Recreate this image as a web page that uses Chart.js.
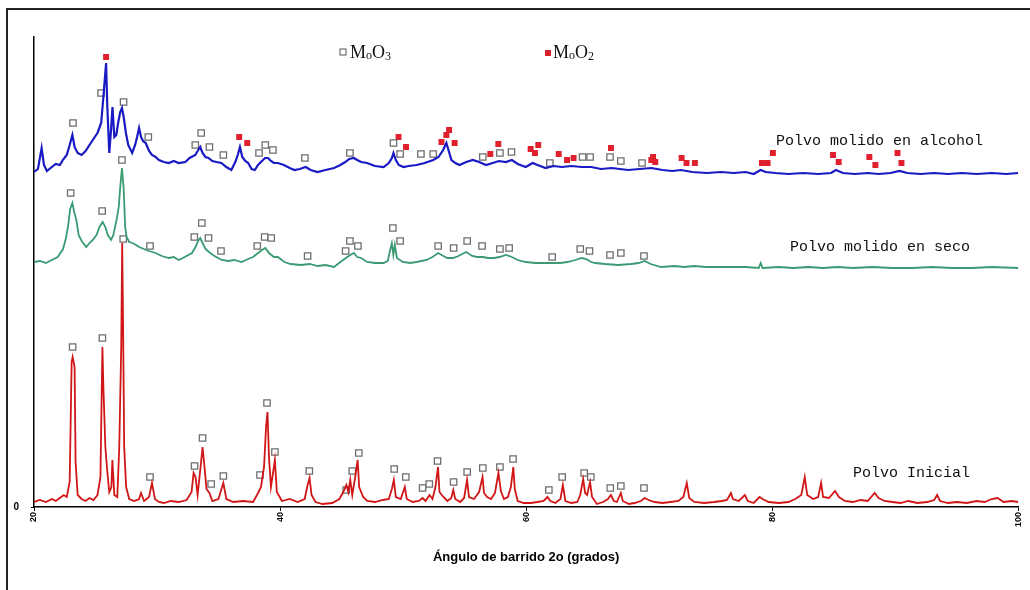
<!DOCTYPE html>
<html>
<head>
<meta charset="utf-8">
<script src="https://cdn.jsdelivr.net/npm/chart.js@4.4.1/dist/chart.umd.min.js"></script>
<style>
    html, body { margin: 0; padding: 0; background: #fff; overflow: hidden; }
    .wrap { position: relative; width: 1030px; height: 590px; }
    .frame { position: absolute; left: 6px; top: 8px; width: 1040px; height: 600px; border: 2px solid #222; box-sizing: border-box; pointer-events: none; }
    canvas { position: absolute; left: 0; top: 0; }
</style>
</head>
<body>
<div class="wrap">
    <canvas id="xrd" width="1030" height="590"></canvas>
    <div class="frame"></div>
</div>
<script>
// Angulos 2theta y alturas (unidades arbitrarias, 0 = eje)
const redX = [20.0,20.48,20.97,21.45,21.77,22.1,22.42,22.66,22.9,23.06,23.14,23.3,23.38,23.55,23.87,24.19,24.51,24.83,25.16,25.4,25.56,25.64,25.8,25.96,26.12,26.29,26.37,26.53,26.77,26.93,27.09,27.17,27.25,27.33,27.49,27.74,28.14,28.54,28.7,28.95,29.35,29.59,29.83,30.15,30.56,31.12,31.76,32.41,32.81,32.97,33.13,33.3,33.54,33.7,33.86,34.02,34.26,34.5,34.99,35.39,35.64,36.2,37.0,37.81,38.21,38.45,38.7,38.86,38.98,39.1,39.26,39.5,39.58,39.74,40.15,40.79,41.43,42.0,42.24,42.4,42.56,42.88,43.45,44.25,44.82,45.14,45.39,45.55,45.71,45.87,46.11,46.31,46.43,46.76,47.08,47.72,48.36,48.84,49.09,49.25,49.41,49.81,50.14,50.3,50.78,51.27,51.59,51.83,52.15,52.39,52.63,52.84,52.96,53.28,53.6,53.92,54.08,54.24,54.64,54.96,55.2,55.36,55.77,56.18,56.46,56.58,56.83,57.15,57.47,57.75,57.95,58.2,58.52,58.76,58.96,59.08,59.32,59.81,60.37,60.93,61.42,61.74,61.98,62.38,62.79,62.99,63.19,63.68,64.16,64.4,64.64,64.8,64.96,65.2,65.36,65.76,66.25,66.65,66.89,67.13,67.38,67.7,67.86,68.35,68.83,69.32,69.64,69.96,70.44,71.09,71.73,72.38,72.78,73.06,73.26,73.67,74.47,75.28,75.92,76.33,76.65,76.81,77.29,77.78,78.02,78.5,78.98,79.22,79.71,80.52,81.32,81.88,82.37,82.65,82.85,83.33,83.74,83.98,84.14,84.62,85.11,85.43,85.91,86.56,87.2,87.77,88.33,88.65,89.14,89.78,90.43,91.07,91.8,92.6,93.17,93.41,93.65,94.29,95.02,95.83,96.63,97.28,97.84,98.33,98.81,99.45,100];
const redY = [5,7,5,8,6,9,12,10,25,145,150,140,45,12,8,6,9,7,12,30,160,120,60,35,15,20,47,12,10,60,160,264,170,60,20,8,6,8,14,6,10,24,8,5,4,6,5,7,15,34,30,12,40,60,40,18,14,6,8,24,8,5,6,5,14,20,40,80,95,50,20,40,47,15,6,8,5,8,22,29,12,5,3,4,8,15,22,15,27,12,30,47,20,10,6,5,7,8,18,27,10,8,20,8,5,6,9,6,12,8,20,40,15,10,6,9,17,8,5,9,27,10,8,15,30,14,10,8,14,34,16,8,10,20,40,18,6,4,4,5,6,10,6,4,8,22,6,4,5,12,28,14,12,25,10,3,5,8,12,6,5,14,6,3,4,6,9,7,5,4,5,6,10,24,9,5,4,5,6,7,14,8,6,12,6,4,10,8,5,4,5,8,12,30,12,8,10,24,10,9,16,10,6,5,7,6,14,9,6,5,4,6,4,5,7,12,6,4,5,4,6,5,8,9,5,6,5];

const greenX = [20.0,20.48,20.97,21.45,21.93,22.36,22.58,22.76,22.94,23.12,23.27,23.44,23.63,23.87,24.25,24.51,24.78,25.08,25.32,25.58,25.8,26.0,26.26,26.45,26.71,26.89,27.01,27.15,27.29,27.41,27.53,27.74,28.0,28.3,28.54,28.94,29.35,29.89,30.39,30.96,31.36,31.76,32.25,32.84,33.13,33.34,33.51,33.7,33.94,34.32,34.67,35.26,35.79,36.28,36.87,37.41,37.81,38.21,38.53,38.8,39.1,39.5,39.82,40.36,40.87,41.7,42.4,43.05,43.69,44.39,44.9,45.47,45.71,46.0,46.27,46.59,47.08,47.72,48.42,48.76,48.97,49.09,49.21,49.33,49.5,49.98,50.57,51.1,51.91,52.39,52.85,53.28,53.6,54.06,54.5,55.13,55.61,56.02,56.48,56.91,57.4,57.83,58.36,58.84,59.32,59.97,60.77,61.42,62.12,62.79,63.35,64.0,64.53,64.88,65.29,65.61,66.41,67.49,68.51,69.15,69.64,70.12,70.98,72.05,72.86,73.67,74.63,75.68,76.89,77.86,78.91,79.07,79.22,80.52,81.73,82.93,84.14,85.35,86.56,88.17,89.78,91.39,93.0,94.61,96.23,97.84,100];
const greenY = [245,246,244,247,250,258,268,280,298,304,295,287,272,266,260,264,267,272,280,285,280,272,267,272,287,300,320,339,318,280,270,265,264,262,260,258,256,254,251,249,250,247,250,254,260,266,269,264,258,254,251,247,246,247,245,248,250,254,257,259,254,250,250,245,243,242,243,241,242,240,245,250,252,254,250,249,245,244,244,246,258,264,252,262,249,245,244,245,247,250,254,251,249,249,251,255,251,250,250,249,249,250,252,250,247,245,244,244,244,244,245,247,249,248,245,244,243,242,243,244,246,243,240,241,240,241,240,240,240,240,239,244,239,240,239,240,239,240,239,240,239,239,240,239,239,240,239];

const blueX = [20.0,20.32,20.62,20.81,21.05,21.45,21.77,22.1,22.34,22.66,22.9,23.12,23.3,23.55,23.87,24.19,24.51,24.83,25.16,25.46,25.64,25.86,25.96,26.12,26.25,26.38,26.53,26.69,26.85,27.01,27.15,27.29,27.47,27.66,27.98,28.22,28.38,28.54,28.7,28.86,29.08,29.35,29.59,29.89,30.15,30.56,30.96,31.36,31.76,32.3,32.65,33.11,33.3,33.51,33.7,33.94,34.18,34.5,34.83,35.23,35.63,36.04,36.36,36.56,36.74,36.93,37.17,37.41,37.69,37.95,38.21,38.53,38.78,39.02,39.26,39.5,39.82,40.31,40.79,41.17,41.6,42.08,42.49,43.05,43.69,44.39,44.9,45.3,45.62,46.0,46.27,46.59,47.08,47.72,48.42,48.84,49.09,49.22,49.41,49.65,50.03,50.46,51.1,51.75,52.45,52.88,53.26,53.44,53.52,53.69,53.93,54.25,54.59,55.13,55.67,56.18,56.75,57.28,57.79,58.36,58.84,59.32,59.97,60.53,60.94,61.58,62.23,62.92,63.67,64.53,65.29,66.09,66.95,67.62,68.29,69.23,70.18,71.09,71.89,72.59,73.5,74.71,75.84,76.89,77.86,78.5,79.06,79.47,80.27,81.32,82.53,83.74,84.79,85.19,85.75,86.72,87.77,88.65,89.62,90.35,90.99,92.04,93.17,94.29,95.42,96.63,97.84,99.05,100];
const blueY = [335,338,359,342,336,340,343,342,347,352,362,372,360,354,352,356,362,368,374,384,410,444,400,354,375,400,370,372,385,395,399,390,374,362,354,362,370,379,370,366,364,356,352,350,347,345,344,346,344,345,349,352,356,360,354,350,349,346,345,344,340,337,345,352,360,350,346,344,338,337,342,346,349,349,346,344,344,342,339,337,338,340,337,335,337,339,342,345,348,349,347,345,344,341,340,344,349,354,347,342,340,341,342,344,347,350,357,362,364,357,347,344,342,345,347,345,342,344,346,345,347,343,340,344,342,339,341,340,341,340,340,338,339,338,337,338,339,337,336,337,335,334,335,334,335,333,337,335,334,333,334,333,334,337,334,333,334,333,334,336,334,333,334,333,334,333,334,333,334];

// Marcadores MoO3 (cuadro vacio) sobre las tres curvas
const mo3X = [23.14,25.56,27.25,29.43,33.05,33.7,34.4,35.39,38.37,38.94,39.58,42.38,45.38,45.87,46.4,49.28,50.22,51.59,52.13,52.8,54.11,55.21,56.48,57.87,58.94,61.85,62.93,64.72,65.26,66.84,67.7,69.58,
    22.98,25.54,27.15,29.43,33.03,33.64,34.18,35.2,38.15,38.75,39.28,42.24,45.33,45.68,46.33,49.17,49.76,52.85,54.11,55.21,56.42,57.87,58.62,62.12,64.4,65.15,66.82,67.7,69.58,
    23.17,25.45,27.28,29.29,33.11,33.59,34.26,35.39,38.29,38.8,39.42,42.02,45.68,49.22,49.76,51.45,52.45,56.48,57.87,58.81,61.93,64.59,65.2,66.82,67.7,69.42];
const mo3Y = [160,169,268,30,41,69,23,31,32,104,55,36,17,36,54,38,30,19,23,46,25,35,39,40,48,17,30,34,30,19,21,19,
    314,296,347,261,270,284,269,256,261,270,269,251,256,266,261,279,266,261,259,266,261,258,259,250,258,256,252,254,251,
    384,414,405,370,362,374,360,352,354,362,357,349,354,364,353,353,353,350,354,355,344,350,350,350,346,344];

// Marcadores MoO2 (cuadro rojo) solo sobre el polvo molido en alcohol
const mo2X = [25.86,36.68,37.33,49.63,50.24,53.12,53.52,53.74,54.19,57.09,57.74,60.37,60.72,60.99,62.65,63.33,63.86,66.9,70.18,70.32,70.5,72.64,73.04,73.72,79.17,79.63,80.06,84.95,85.41,87.9,88.39,90.19,90.51];
const mo2Y = [450,370,364,370,360,365,372,377,364,353,363,358,354,362,353,347,349,359,347,350,345,349,344,344,344,344,354,352,345,350,342,354,344];

const xTicks = [20, 40, 60, 80, 100];

const toPts = (xs, ys) => xs.map((x, i) => ({ x: x, y: ys[i] }));

const mono = '"Liberation Mono", "DejaVu Sans Mono", monospace';
const serif = '"Liberation Serif", "DejaVu Serif", serif';

// Textos de curvas y leyenda dibujados a mano sobre el canvas
const labelsPlugin = {
    id: 'xrdLabels',
    afterDatasetsDraw(chart) {
        const ctx = chart.ctx;
        ctx.save();
        ctx.fillStyle = '#111';
        ctx.textBaseline = 'middle';
        ctx.font = '15px ' + mono;
        ctx.fillText('Polvo molido en alcohol', 776, 141);
        ctx.fillText('Polvo molido en seco', 790, 247);
        ctx.fillText('Polvo Inicial', 853, 473);

        const formula = (x, y, sub) => {
            ctx.font = '18px ' + serif;
            ctx.fillText('M', x, y);
            x += ctx.measureText('M').width;
            ctx.font = '12px ' + serif;
            ctx.fillText('o', x, y + 3);
            x += ctx.measureText('o').width;
            ctx.font = '18px ' + serif;
            ctx.fillText('O', x, y);
            x += ctx.measureText('O').width;
            ctx.font = '12px ' + serif;
            ctx.fillText(sub, x, y + 4);
        };

        ctx.strokeStyle = '#707070';
        ctx.lineWidth = 1.2;
        ctx.strokeRect(340, 49, 6, 6);
        formula(350, 53, '3');

        ctx.fillStyle = '#d8202c';
        ctx.fillRect(545, 50, 6, 6);
        ctx.fillStyle = '#111';
        formula(553, 53, '2');
        ctx.restore();
    }
};

new Chart(document.getElementById('xrd'), {
    type: 'line',
    data: {
        datasets: [
            { label: 'Polvo molido en alcohol', data: toPts(blueX, blueY), borderColor: '#1a1ac4', borderWidth: 2.2, pointRadius: 0, tension: 0 },
            { label: 'Polvo molido en seco', data: toPts(greenX, greenY), borderColor: '#3a9a72', borderWidth: 1.8, pointRadius: 0, tension: 0 },
            { label: 'Polvo Inicial', data: toPts(redX, redY), borderColor: '#d01616', borderWidth: 1.8, pointRadius: 0, tension: 0 },
            { type: 'scatter', label: 'MoO3', data: toPts(mo3X, mo3Y), pointStyle: 'rect', pointRadius: 4.5, borderColor: '#6e6e6e', backgroundColor: '#fff', borderWidth: 1.3 },
            { type: 'scatter', label: 'MoO2', data: toPts(mo2X, mo2Y), pointStyle: 'rect', pointRadius: 4.2, borderColor: '#d8202c', backgroundColor: '#e0202c', borderWidth: 0 }
        ]
    },
    options: {
        responsive: false,
        animation: false,
        layout: { padding: { left: 0, top: 37, right: 3, bottom: 0 } },
        plugins: { legend: { display: false }, tooltip: { enabled: false } },
        scales: {
            x: {
                type: 'linear', min: 20, max: 100,
                afterFit: (s) => { s.height = 83; },
                afterBuildTicks: (s) => { s.ticks = xTicks.map(v => ({ value: v })); },
                border: { color: '#000', width: 1.5 },
                grid: { drawOnChartArea: false, drawTicks: true, tickLength: 4, color: '#000' },
                ticks: { color: '#000', minRotation: 90, maxRotation: 90, padding: 1, font: { family: 'Liberation Sans', size: 9, weight: 'bold' } },
                title: { display: true, text: 'Ángulo de barrido 2o (grados)', color: '#000', font: { family: 'Liberation Sans', size: 13, weight: 'bold' }, padding: { top: 0, bottom: 25 } }
            },
            y: {
                min: 0, max: 470,
                afterFit: (s) => { s.width = 34; },
                afterBuildTicks: (s) => { s.ticks = [{ value: 0 }]; },
                border: { color: '#000', width: 1.5 },
                grid: { drawOnChartArea: false, drawTicks: true, tickLength: 3, color: '#000' },
                ticks: { color: '#000', padding: 12, font: { family: 'Liberation Sans', size: 10, weight: 'bold' } }
            }
        }
    },
    plugins: [labelsPlugin]
});
</script>
</body>
</html>
